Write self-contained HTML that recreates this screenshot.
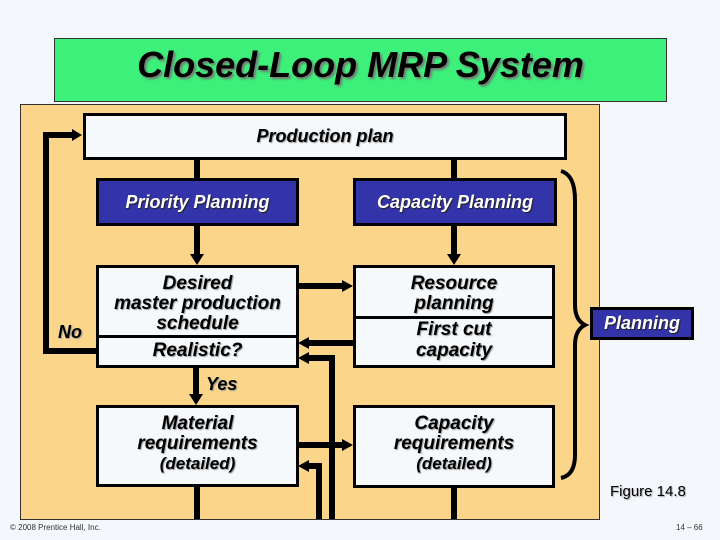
<!DOCTYPE html>
<html><head><meta charset="utf-8"><style>
body{margin:0;width:720px;height:540px;background:#F4F7FB;position:relative;overflow:hidden;font-family:"Liberation Sans",sans-serif}
.a{position:absolute;box-sizing:border-box}
.t{font-weight:bold;font-style:italic;text-align:center;color:#000;text-shadow:1px 1px 1px #999}
.w{background:#F6F9FC;border:3px solid #000}
.b{background:#3333AA;border:3px solid #000;color:#fff;font-weight:bold;font-style:italic;font-size:18px;text-align:center;text-shadow:1px 1px 1px #222}
</style></head><body>
<div class="a" style="left:54px;top:38px;width:613px;height:64px;background:#3CF07A;border:1px solid #333"></div>
<div class="a t" style="left:54px;top:44px;width:613px;font-size:36px;text-shadow:2px 2px 2px #777">Closed-Loop MRP System</div>
<div class="a" style="left:20px;top:104px;width:580px;height:416px;background:#FBD58A;border:1px solid #333"></div>
<svg class="a" style="left:0;top:0" width="720" height="540">
<g stroke="#000" stroke-width="6" fill="none">
<line x1="197" y1="159" x2="197" y2="180"/>
<line x1="454" y1="159" x2="454" y2="180"/>
<line x1="197" y1="225" x2="197" y2="256"/>
<line x1="454" y1="225" x2="454" y2="256"/>
<polyline points="96,351 46,351 46,135 74,135"/>
<line x1="298" y1="286" x2="344" y2="286"/>
<line x1="353" y1="343" x2="307" y2="343"/>
<polyline points="332,519 332,358 307,358"/>
<line x1="196" y1="367" x2="196" y2="396"/>
<line x1="298" y1="445" x2="344" y2="445"/>
<polyline points="319,519 319,466 307,466"/>
<line x1="197" y1="486" x2="197" y2="519"/>
<line x1="454" y1="487" x2="454" y2="519"/>
<path d="M561,171 Q575,175 575,200 L575,305 Q575,320 585,325 Q575,330 575,345 L575,455 Q575,475 561,478" stroke-width="4"/>
</g>
<g fill="#000">
<polygon points="82,135 72,129 72,141"/>
<polygon points="197,265 190,254 204,254"/>
<polygon points="454,265 447,254 461,254"/>
<polygon points="353,286 342,280 342,292"/>
<polygon points="298,343 309,337 309,349"/>
<polygon points="298,358 309,352 309,364"/>
<polygon points="196,405 189,394 203,394"/>
<polygon points="353,445 342,439 342,451"/>
<polygon points="298,466 309,460 309,472"/>
</g>
</svg>
<div class="a w t" style="left:83px;top:113px;width:484px;height:47px;font-size:18px;line-height:41px">Production plan</div>
<div class="a b" style="left:96px;top:178px;width:203px;height:48px;line-height:42px">Priority Planning</div>
<div class="a b" style="left:353px;top:178px;width:204px;height:48px;line-height:42px">Capacity Planning</div>
<div class="a w t" style="left:96px;top:265px;width:203px;height:103px;font-size:19px;line-height:20px;padding-top:6px">Desired<br>master production<br>schedule</div>
<div class="a" style="left:96px;top:335px;width:203px;height:3px;background:#000"></div>
<div class="a t" style="left:96px;top:340px;width:203px;font-size:19px">Realistic?</div>
<div class="a w t" style="left:353px;top:265px;width:202px;height:103px;font-size:19px;line-height:20px;padding-top:6px">Resource<br>planning</div>
<div class="a" style="left:353px;top:316px;width:202px;height:3px;background:#000"></div>
<div class="a t" style="left:353px;top:319px;width:202px;font-size:19px;line-height:21px">First cut<br>capacity</div>
<div class="a w t" style="left:96px;top:405px;width:203px;height:82px;font-size:19px;line-height:20px;padding-top:6px">Material<br>requirements<br><span style="font-size:17px">(detailed)</span></div>
<div class="a w t" style="left:353px;top:405px;width:202px;height:83px;font-size:19px;line-height:20px;padding-top:6px">Capacity<br>requirements<br><span style="font-size:17px">(detailed)</span></div>
<div class="a t" style="left:58px;top:322px;font-size:18px">No</div>
<div class="a t" style="left:206px;top:374px;font-size:18px">Yes</div>
<div class="a b" style="left:590px;top:307px;width:104px;height:33px;line-height:27px;font-size:18px">Planning</div>
<div class="a" style="left:610px;top:483px;font-size:15px;text-shadow:1px 1px 1px #aaa">Figure 14.8</div>
<div class="a" style="left:10px;top:523px;font-size:8px;color:#333">© 2008 Prentice Hall, Inc.</div>
<div class="a" style="left:676px;top:523px;font-size:8px;color:#333">14 – 66</div>
</body></html>
